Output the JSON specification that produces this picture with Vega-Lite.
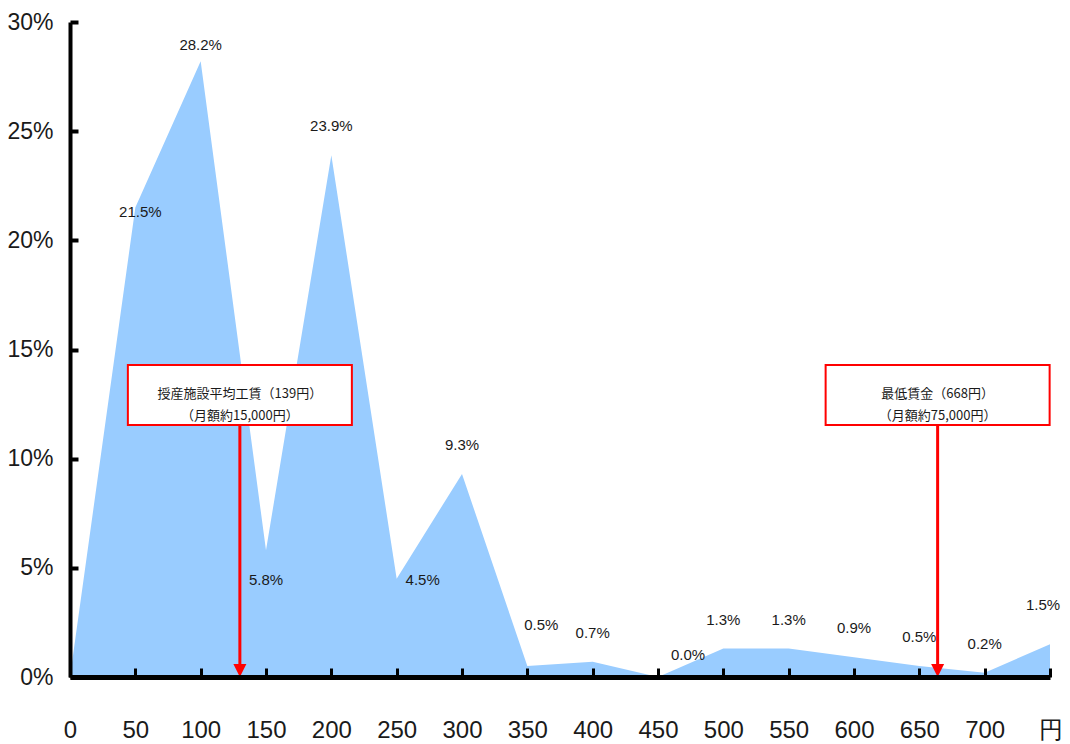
{
  "$schema": "https://vega.github.io/schema/vega-lite/v6.json",
  "autosize": "none",
  "width": 980,
  "height": 655,
  "padding": {"left": 70, "top": 22, "right": 20, "bottom": 67},
  "background": "white",
  "config": {"view": {"stroke": null}, "font": "Liberation Sans"},
  "layer": [
    {
      "data": {"values": [
        {"yen": 0, "pct": 0},
        {"yen": 50, "pct": 21.5},
        {"yen": 100, "pct": 28.2},
        {"yen": 150, "pct": 5.8},
        {"yen": 200, "pct": 23.9},
        {"yen": 250, "pct": 4.5},
        {"yen": 300, "pct": 9.3},
        {"yen": 350, "pct": 0.5},
        {"yen": 400, "pct": 0.7},
        {"yen": 450, "pct": 0.0},
        {"yen": 500, "pct": 1.3},
        {"yen": 550, "pct": 1.3},
        {"yen": 600, "pct": 0.9},
        {"yen": 650, "pct": 0.5},
        {"yen": 700, "pct": 0.2},
        {"yen": 750, "pct": 1.5}
      ]},
      "encoding": {
        "x": {
          "field": "yen", "type": "quantitative",
          "scale": {"domain": [0, 750], "nice": false, "zero": true},
          "axis": {
            "title": null, "grid": false, "zindex": 1,
            "values": [0,50,100,150,200,250,300,350,400,450,500,550,600,650,700,750],
            "labelExpr": "datum.value == 750 ? '円' : datum.label",
            "labelFlush": false,
            "domainColor": "black", "domainWidth": 5,
            "tickColor": "black", "tickWidth": 3, "tickSize": -9,
            "labelFont": "Liberation Sans", "labelFontSize": 24, "labelColor": "#1a1a1a",
            "labelPadding": 50, "labelBaseline": "top"
          }
        },
        "y": {
          "field": "pct", "type": "quantitative",
          "scale": {"domain": [0, 30], "nice": false},
          "axis": {
            "title": null, "grid": false, "zindex": 1,
            "values": [0,5,10,15,20,25,30],
            "labelExpr": "datum.value + '%'",
            "domainColor": "black", "domainWidth": 4,
            "tickColor": "black", "tickWidth": 4, "tickSize": -8,
            "labelFont": "Liberation Sans", "labelFontSize": 23, "labelColor": "#1a1a1a",
            "labelPadding": 25
          }
        }
      },
      "layer": [
        {"mark": {"type": "area", "color": "#99CCFF", "opacity": 1, "interpolate": "linear"}},
        {
          "transform": [
            {"filter": "indexof([200,300,400,500,550,600,650,700], datum.yen) >= 0"},
            {"calculate": "format(datum.pct, '.1f') + '%'", "as": "lab"}
          ],
          "mark": {"type": "text", "font": "Liberation Sans", "fontSize": 15, "color": "#1a1a1a", "dy": -29},
          "encoding": {"text": {"field": "lab"}}
        },
        {
          "transform": [{"filter": "datum.yen == 100"}, {"calculate": "format(datum.pct, '.1f') + '%'", "as": "lab"}],
          "mark": {"type": "text", "font": "Liberation Sans", "fontSize": 15, "color": "#1a1a1a", "dy": -16},
          "encoding": {"text": {"field": "lab"}}
        },
        {
          "transform": [{"filter": "datum.yen == 50"}, {"calculate": "format(datum.pct, '.1f') + '%'", "as": "lab"}],
          "mark": {"type": "text", "font": "Liberation Sans", "fontSize": 15, "color": "#1a1a1a", "dy": 4, "dx": 5},
          "encoding": {"text": {"field": "lab"}}
        },
        {
          "transform": [{"filter": "datum.yen == 150"}, {"calculate": "format(datum.pct, '.1f') + '%'", "as": "lab"}],
          "mark": {"type": "text", "font": "Liberation Sans", "fontSize": 15, "color": "#1a1a1a", "dy": 30},
          "encoding": {"text": {"field": "lab"}}
        },
        {
          "transform": [{"filter": "datum.yen == 250"}, {"calculate": "format(datum.pct, '.1f') + '%'", "as": "lab"}],
          "mark": {"type": "text", "font": "Liberation Sans", "fontSize": 15, "color": "#1a1a1a", "dx": 26, "dy": 1},
          "encoding": {"text": {"field": "lab"}}
        },
        {
          "transform": [{"filter": "datum.yen == 350"}, {"calculate": "format(datum.pct, '.1f') + '%'", "as": "lab"}],
          "mark": {"type": "text", "font": "Liberation Sans", "fontSize": 15, "color": "#1a1a1a", "dx": 14, "dy": -41},
          "encoding": {"text": {"field": "lab"}}
        },
        {
          "transform": [{"filter": "datum.yen == 450"}, {"calculate": "format(datum.pct, '.1f') + '%'", "as": "lab"}],
          "mark": {"type": "text", "font": "Liberation Sans", "fontSize": 15, "color": "#1a1a1a", "dx": 30, "dy": -22},
          "encoding": {"text": {"field": "lab"}}
        },
        {
          "transform": [{"filter": "datum.yen == 750"}, {"calculate": "format(datum.pct, '.1f') + '%'", "as": "lab"}],
          "mark": {"type": "text", "font": "Liberation Sans", "fontSize": 15, "color": "#1a1a1a", "dx": -7, "dy": -39},
          "encoding": {"text": {"field": "lab"}}
        }
      ]
    },
    {
      "data": {"values": [
        {"yen": 130, "note": "授産施設平均工賃（139円）\n（月額約15,000円）"},
        {"yen": 664, "note": "最低賃金（668円）\n（月額約75,000円）"}
      ]},
      "layer": [
        {
          "mark": {"type": "rule", "color": "#FF0000", "strokeWidth": 3, "y2Offset": -10},
          "encoding": {"x": {"field": "yen", "type": "quantitative"}, "y": {"datum": 11.54, "type": "quantitative"}, "y2": {"datum": 0}}
        },
        {
          "mark": {"type": "point", "shape": "M-1,-1L1,-1L0,1Z", "filled": true, "color": "#FF0000", "opacity": 1, "size": 169, "yOffset": -6.5},
          "encoding": {"x": {"field": "yen", "type": "quantitative"}, "y": {"datum": 0, "type": "quantitative"}}
        },
        {
          "mark": {"type": "rect", "fill": "white", "stroke": "#FF0000", "strokeWidth": 2, "xOffset": -112, "x2Offset": 112},
          "encoding": {"x": {"field": "yen", "type": "quantitative"}, "x2": {"field": "yen"}, "y": {"datum": 14.29, "type": "quantitative"}, "y2": {"datum": 11.54}}
        },
        {
          "mark": {"type": "text", "font": "Noto Sans CJK JP", "fontSize": 13, "color": "#1a1a1a", "lineBreak": "\n", "lineHeight": 22, "baseline": "middle", "align": "center"},
          "encoding": {"x": {"field": "yen", "type": "quantitative"}, "y": {"datum": 12.96, "type": "quantitative"}, "text": {"field": "note"}}
        }
      ]
    }
  ]
}
